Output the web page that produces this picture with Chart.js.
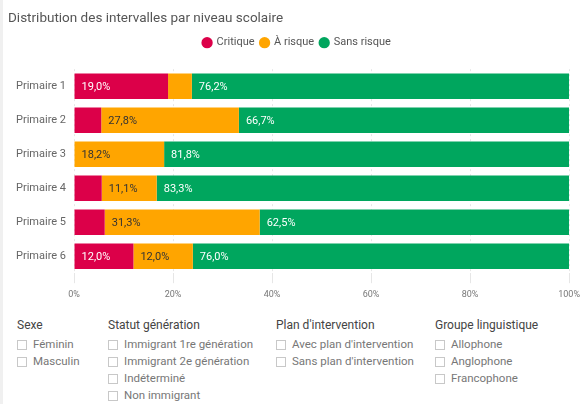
<!DOCTYPE html>
<html lang="fr">
<head>
<meta charset="utf-8">
<script src="https://cdn.jsdelivr.net/npm/chart.js@4/dist/chart.umd.min.js"></script>
<style>
  body { margin: 0; background: #fff; font-family: Roboto, "Liberation Sans", Arial, sans-serif; }
  #wrap { position: relative; width: 583px; height: 404px; overflow: hidden; }
  #strip { position: absolute; left: 0; top: 0; width: 3px; height: 404px; background: #f0f0f0; }
  #chartBox { position: absolute; left: 0; top: 0; width: 586px; height: 308px; }
  .col { position: absolute; top: 317px; }
  .col h4 { margin: 0 0 3px 0; font-size: 12px; font-weight: normal; color: #444; line-height: 16px; }
  .item { font-size: 11.5px; color: #777; line-height: 17px; height: 17px; display: flex; align-items: center; white-space: nowrap; }
  .item span.box { display: inline-block; width: 10px; height: 10px; border: 1px solid #c8c8c8; margin-right: 6px; box-sizing: border-box; }
</style>
</head>
<body>
<div id="wrap">
  <div id="strip"></div>
  <div id="chartBox"><canvas id="niveauChart"></canvas></div>
  <div class="col" style="left:17px"><h4>Sexe</h4>
    <div class="item"><span class="box"></span>Féminin</div>
    <div class="item"><span class="box"></span>Masculin</div>
  </div>
  <div class="col" style="left:108px"><h4>Statut génération</h4>
    <div class="item"><span class="box"></span>Immigrant 1re génération</div>
    <div class="item"><span class="box"></span>Immigrant 2e génération</div>
    <div class="item"><span class="box"></span>Indéterminé</div>
    <div class="item"><span class="box"></span>Non immigrant</div>
  </div>
  <div class="col" style="left:276px"><h4>Plan d'intervention</h4>
    <div class="item"><span class="box"></span>Avec plan d'intervention</div>
    <div class="item"><span class="box"></span>Sans plan d'intervention</div>
  </div>
  <div class="col" style="left:435px"><h4>Groupe linguistique</h4>
    <div class="item"><span class="box"></span>Allophone</div>
    <div class="item"><span class="box"></span>Anglophone</div>
    <div class="item"><span class="box"></span>Francophone</div>
  </div>
</div>
<script>
const niveaux = ['Primaire 1', 'Primaire 2', 'Primaire 3', 'Primaire 4', 'Primaire 5', 'Primaire 6'];
const critique = [19.0, 5.5, 0, 5.6, 6.2, 12.0];
const aRisque = [4.8, 27.8, 18.2, 11.1, 31.3, 12.0];
const sansRisque = [76.2, 66.7, 81.8, 83.3, 62.5, 76.0];

const couleurs = ['#dc0049', '#ffa500', '#00a65e'];
const couleursTexte = ['#fff', '#333', '#fff'];
const police = 'Roboto, "Liberation Sans", Arial, sans-serif';

function pct(v) {
  return v.toFixed(1).replace('.', ',') + '%';
}

// étiquettes dans les barres (seulement les segments assez larges)
const etiquettes = {
  id: 'etiquettes',
  afterDatasetsDraw(chart) {
    const ctx = chart.ctx;
    ctx.save();
    ctx.font = '11px ' + police;
    ctx.textBaseline = 'middle';
    ctx.textAlign = 'left';
    chart.data.datasets.forEach((ds, i) => {
      const meta = chart.getDatasetMeta(i);
      meta.data.forEach((bar, j) => {
        const v = ds.data[j];
        if (v < 10) return;
        const p = bar.getProps(['x', 'y', 'base'], true);
        ctx.fillStyle = couleursTexte[i];
        ctx.fillText(pct(v), p.base + 7, p.y + 1);
      });
    });
    ctx.restore();
  }
};

// un peu d'espace sous la légende
const margeLegende = {
  id: 'margeLegende',
  beforeInit(chart) {
    const fit = chart.legend.fit;
    chart.legend.fit = function () {
      fit.bind(chart.legend)();
      this.height += 11;
    };
  }
};

new Chart(document.getElementById('niveauChart'), {
  type: 'bar',
  data: {
    labels: niveaux,
    datasets: [
      { label: 'Critique', data: critique, backgroundColor: couleurs[0] },
      { label: 'À risque', data: aRisque, backgroundColor: couleurs[1] },
      { label: 'Sans risque', data: sansRisque, backgroundColor: couleurs[2] }
    ]
  },
  options: {
    indexAxis: 'y',
    responsive: true,
    maintainAspectRatio: false,
    animation: false,
    barPercentage: 1,
    categoryPercentage: 0.75,
    layout: { padding: { left: 8, right: 0, top: 0, bottom: 2 } },
    plugins: {
      title: {
        display: true,
        text: 'Distribution des intervalles par niveau scolaire',
        align: 'start',
        color: '#555',
        font: { size: 13.5, weight: 'normal', family: police },
        padding: { top: 11, bottom: 4 }
      },
      legend: {
        position: 'top',
        labels: {
          usePointStyle: true,
          pointStyle: 'circle',
          boxWidth: 8,
          boxHeight: 8,
          padding: 6,
          color: '#555',
          font: { size: 11, family: police }
        }
      },
      tooltip: { enabled: false }
    },
    scales: {
      x: {
        stacked: true,
        min: 0,
        max: 100,
        ticks: {
          stepSize: 20,
          color: '#777',
          padding: 6,
          font: { size: 9, family: police },
          callback: v => v + '%'
        },
        grid: { color: '#e6e6e6', drawTicks: true, tickLength: 10 },
        border: { display: false, dash: [2, 3] }
      },
      y: {
        stacked: true,
        ticks: {
          color: '#666',
          padding: 8,
          font: { size: 11, family: police }
        },
        grid: { display: false, drawTicks: false },
        border: { display: false }
      }
    }
  },
  plugins: [etiquettes, margeLegende]
});
</script>
</body>
</html>
